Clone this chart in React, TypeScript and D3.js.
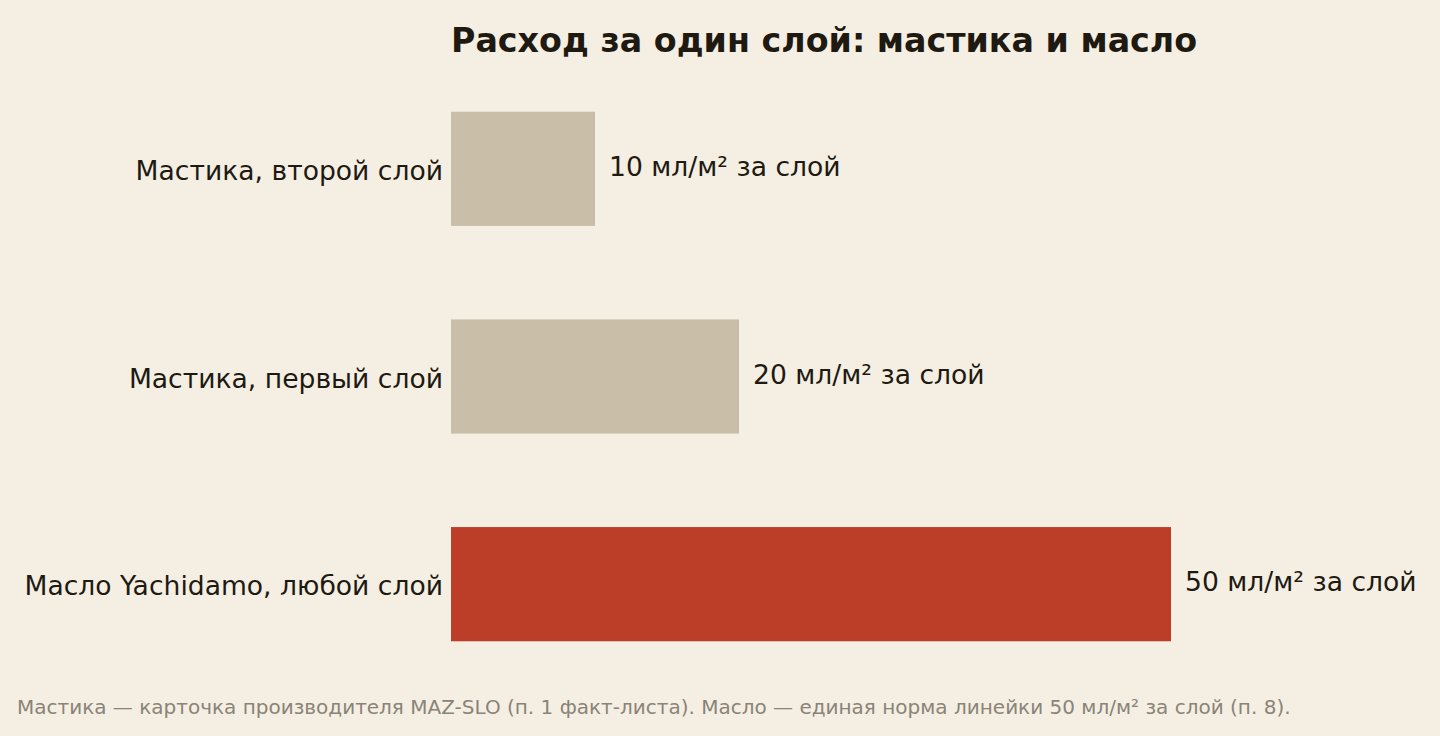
import * as d3 from "d3";

const categories = [
  "Мастика, второй слой",
  "Мастика, первый слой",
  "Масло Yachidamo, любой слой",
];
const values = [10, 20, 50];
const valueLabels = ["10 мл/м² за слой", "20 мл/м² за слой", "50 мл/м² за слой"];
const barColors = ["#c9bfa9", "#c9bfa9", "#bd3e28"];

const title = "Расход за один слой: мастика и масло";
const footnote =
  "Мастика — карточка производителя MAZ-SLO (п. 1 факт-листа). Масло — единая норма линейки 50 мл/м² за слой (п. 8).";

const W = 1440;
const H = 736;
const mg = { left: 451, top: 112, bottom: 95 };
const FONT = "'DejaVu Sans', sans-serif";

export default function App() {
  const x = d3.scaleLinear().domain([0, 50]).range([mg.left, mg.left + 720]);
  const y = d3
    .scaleBand<string>()
    .domain(categories)
    .range([mg.top - 47, H - mg.bottom + 47])
    .paddingInner(0.45)
    .paddingOuter(0.225);

  return (
    <svg
      width={W}
      height={H}
      viewBox={`0 0 ${W} ${H}`}
      style={{ position: "fixed", left: 0, top: 0, background: "#f5efe3", fontFamily: FONT }}
    >
      <rect width={W} height={H} fill="#f5efe3" />
      <text x={mg.left} y={52} fontSize={33.3} fontWeight="bold" fill="#1e1a12">
        {title}
      </text>
      {categories.map((c, i) => {
        const y0 = y(c)!;
        const bw = y.bandwidth();
        const cy = y0 + bw / 2;
        return (
          <g key={c}>
            <rect x={x(0)} y={y0} width={x(values[i]) - x(0)} height={bw} fill={barColors[i]} />
            <text x={mg.left - 8} y={cy + 11} fontSize={26.6} textAnchor="end" fill="#1e1a12">
              {c}
            </text>
            <text x={x(values[i]) + 14} y={cy + 7} fontSize={26.6} fill="#1e1a12">
              {valueLabels[i]}
            </text>
          </g>
        );
      })}
      <text x={17} y={714} fontSize={20} fill="#8a8377">
        {footnote}
      </text>
    </svg>
  );
}
